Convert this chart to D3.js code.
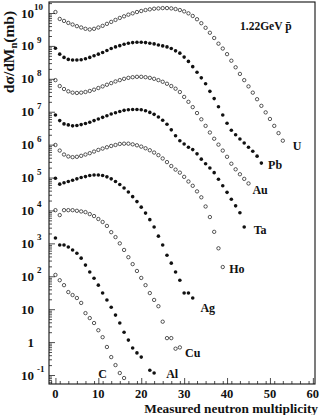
<!DOCTYPE html>
<html>
<head>
<meta charset="utf-8">
<script src="https://cdn.jsdelivr.net/npm/d3@7"></script>
<style>
  body { margin: 0; background: #fff; }
  text { font-family: "Liberation Serif", "DejaVu Serif", serif; font-weight: bold; fill: #111; }
</style>
</head>
<body>
<div id="chart"></div>
<script>
// values, index = measured neutron multiplicity (0,1,2,...)
const targets = ["U", "Pb", "Au", "Ta", "Ho", "Ag", "Cu", "Al", "C"];
const openMarker = [true, false, true, false, true, false, true, false, true];

const U = [1.07e10, 6.6e9, 5.75e9, 5.0e9, 4.47e9, 3.98e9, 3.63e9, 3.31e9, 3.16e9, 3.31e9,
  3.63e9, 4.07e9, 4.68e9, 5.37e9, 6.17e9, 7.08e9, 7.94e9, 8.91e9, 9.77e9, 1.07e10,
  1.15e10, 1.23e10, 1.29e10, 1.35e10, 1.38e10, 1.41e10, 1.41e10, 1.38e10, 1.32e10, 1.23e10,
  1.12e10, 9.77e9, 8.13e9, 6.46e9, 4.9e9, 3.55e9, 2.51e9, 1.74e9, 1.17e9, 8.32e8,
  5.62e8, 3.55e8, 2.24e8, 1.41e8, 9.12e7, 5.89e7, 3.8e7, 2.4e7, 1.51e7, 9.55e6,
  6.03e6, 3.72e6, 2.24e6, 1.32e6];
const Pb = [8.51e8, 5.62e8, 4.47e8, 3.89e8, 3.72e8, 3.72e8, 3.8e8, 4.07e8, 4.47e8, 5.01e8,
  5.62e8, 6.31e8, 7.24e8, 8.32e8, 9.33e8, 1.02e9, 1.12e9, 1.2e9, 1.26e9, 1.29e9,
  1.29e9, 1.26e9, 1.2e9, 1.15e9, 1.07e9, 1.0e9, 9.33e8, 8.32e8, 7.08e8, 6.03e8,
  4.57e8, 3.39e8, 2.34e8, 1.58e8, 1.07e8, 7.08e7, 4.17e7, 2.51e7, 1.41e7, 7.94e6,
  4.47e6, 2.75e6, 2.0e6, 1.48e6, 1.12e6, 8.32e5, 6.31e5, 4.47e5, 2.75e5];
const Au = [9.12e7, 6.03e7, 4.9e7, 4.17e7, 3.8e7, 3.72e7, 3.8e7, 3.98e7, 4.27e7, 4.68e7,
  5.25e7, 5.89e7, 6.61e7, 7.41e7, 8.32e7, 9.12e7, 1.0e8, 1.07e8, 1.12e8, 1.15e8,
  1.15e8, 1.12e8, 1.07e8, 1.0e8, 9.12e7, 8.13e7, 7.08e7, 6.03e7, 5.01e7, 3.98e7,
  2.82e7, 2.0e7, 1.38e7, 9.12e6, 5.89e6, 3.72e6, 2.34e6, 1.51e6, 1.0e6, 6.61e5,
  4.27e5, 2.63e5, 1.78e5, 1.26e5, 9.12e4, 6.61e4];
const Ta = [7.94e6, 5.37e6, 4.27e6, 3.98e6, 3.72e6, 3.8e6, 4.07e6, 4.37e6, 4.79e6, 5.37e6,
  6.03e6, 6.76e6, 7.59e6, 8.51e6, 9.33e6, 1.02e7, 1.1e7, 1.15e7, 1.17e7, 1.17e7,
  1.15e7, 1.07e7, 9.55e6, 8.32e6, 6.92e6, 5.5e6, 4.17e6, 2.82e6, 1.86e6, 1.32e6,
  1.05e6, 8.32e5, 7.08e5, 5.25e5, 3.63e5, 2.63e5, 1.95e5, 1.41e5, 8.91e4, 5.62e4,
  3.55e4, 2.19e4, 1.38e4, 8.51e3, 3.16e3];
const Ho = [9.77e5, 6.61e5, 5.01e5, 4.37e5, 4.17e5, 4.27e5, 4.57e5, 5.01e5, 5.5e5, 6.17e5,
  6.92e5, 7.59e5, 8.32e5, 9.12e5, 9.77e5, 1.05e6, 1.07e6, 1.07e6, 1.02e6, 9.55e5,
  8.71e5, 7.76e5, 6.76e5, 5.75e5, 4.79e5, 3.8e5, 2.95e5, 2.24e5, 1.74e5, 1.41e5,
  1.05e5, 7.59e4, 5.62e4, 3.8e4, 2.51e4, 1.32e4, 6.31e3, 2.24e3, 7.08e2, 1.91e2];
const Ag = [9.55e4, 6.31e4, 6.92e4, 7.59e4, 8.32e4, 9.12e4, 1.0e5, 1.07e5, 1.15e5, 1.2e5,
  1.2e5, 1.15e5, 1.05e5, 9.12e4, 7.59e4, 6.17e4, 4.79e4, 3.63e4, 2.63e4, 1.86e4,
  1.26e4, 8.32e3, 5.25e3, 3.16e3, 1.66e3, 8.91e2, 4.37e2, 2.51e2, 1.35e2, 7.59e1,
  3.09e1, 3.09e1, 2.19e1];
const Cu = [1.02e4, 7.24e3, 1.02e4, 1.02e4, 1.02e4, 9.77e3, 9.33e3, 8.91e3, 7.76e3, 6.76e3,
  5.5e3, 4.47e3, 3.39e3, 2.19e3, 1.55e3, 1.0e3, 6.31e2, 3.8e2, 2.34e2, 1.45e2,
  8.91e1, 5.37e1, 3.09e1, 1.91e1, 1.23e1, 4.17, 1.32, 1.32, 0.63, 0.69];
const Al = [1.45e3, 8.91e2, 8.91e2, 7.76e2, 6.31e2, 5.01e2, 3.55e2, 2.19e2, 1.35e2, 8.71e1,
  5.37e1, 3.09e1, 1.91e1, 1.15e1, 6.61, 3.8, 2.0, 1.15, 0.66, 0.47,
  0.35, null, 0.14, 0.115];
const C = [1.1e2, 7.59e1, 5.37e1, 3.31e1, 2.69e1, 2.19e1, 1.55e1, 7.59, 5.37, 3.8,
  2.29, 1.41, 0.71, 0.35, 0.2, 0.115, 0.081];

const xTicks = [0, 10, 20, 30, 40, 50, 60];
const yDecades = [-1, 0, 1, 2, 3, 4, 5, 6, 7, 8, 9, 10];

const series = [U, Pb, Au, Ta, Ho, Ag, Cu, Al, C];
// where each target name sits (multiplicity, value)
const labelAt = [[56.3, 9.1e5], [51.2, 2.4e5], [47.7, 4.2e4], [47.7, 2.6e3], [42.3, 1.66e2],
                 [35.5, 11], [32, 0.47], [27.2, 0.107], [11, 0.107]];

const width = 321, height = 415;
const frame = {left: 49, right: 315, top: 2, bottom: 384};

const svg = d3.select("#chart").append("svg")
    .attr("width", width).attr("height", height);

const x = d3.scaleLinear().domain([-1.5, 60.5]).range([frame.left, frame.right]);
const y = d3.scaleLog().domain([0.0533, 2.16e10]).range([frame.bottom, frame.top]);

//Minor ticks on log axis
let minor = [];
for (let k = -2; k <= 10; k++)
    for (let m = 2; m <= 9; m++) {
        const v = m * Math.pow(10, k);
        if (v > y.domain()[0] && v < y.domain()[1]) minor.push(v);
    }
const major = yDecades.map(e => Math.pow(10, e));

svg.append("g").attr("transform", `translate(${frame.left},0)`)
    .call(d3.axisLeft(y).tickValues(minor).tickSize(-3).tickFormat(""))
    .call(g => g.select(".domain").remove());
svg.append("g").attr("transform", `translate(${frame.left},0)`)
    .call(d3.axisLeft(y).tickValues(major).tickSize(-6).tickFormat(""))
    .call(g => g.select(".domain").remove());

svg.append("g").attr("transform", `translate(0,${frame.bottom})`)
    .call(d3.axisBottom(x).tickValues(d3.range(-1, 61, 2)).tickSize(-3).tickFormat(""))
    .call(g => g.select(".domain").remove());
svg.append("g").attr("transform", `translate(0,${frame.bottom})`)
    .call(d3.axisBottom(x).tickValues(xTicks).tickSize(-6).tickFormat(""))
    .call(g => g.select(".domain").remove());

svg.selectAll(".tick line").attr("stroke", "#222").attr("stroke-width", 0.8);

//Frame
svg.append("rect")
    .attr("x", frame.left).attr("y", frame.top)
    .attr("width", frame.right - frame.left).attr("height", frame.bottom - frame.top)
    .attr("fill", "none").attr("stroke", "#111").attr("stroke-width", 1.1);

//Y labels
const yl = svg.append("g");
yDecades.forEach(e => {
    const yy = y(Math.pow(10, e));
    const t = yl.append("text").attr("y", yy + 4.5).attr("font-size", 13);
    if (e === 0) { t.attr("x", 34).attr("text-anchor", "end").text("1"); return; }
    t.attr("x", 34).attr("text-anchor", "end").text("10");
    if (e !== 1) {
        yl.append("text")
            .attr("x", e === 10 ? 34 : 37).attr("y", yy - 3)
            .attr("font-size", 9).text(e);
    }
});

//X labels
svg.append("g").selectAll("text").data(xTicks).join("text")
    .attr("x", d => x(d)).attr("y", 398)
    .attr("text-anchor", "middle").attr("font-size", 12.5)
    .text(d => d);

svg.append("text")
    .attr("x", 318).attr("y", 412.5).attr("text-anchor", "end")
    .attr("font-size", 13.3)
    .text("Measured neutron multiplicity");

const yt = svg.append("text")
    .attr("transform", "translate(14,52) rotate(-90)")
    .attr("text-anchor", "middle").attr("font-size", 15.5);
yt.append("tspan").text("dσ/dM");
yt.append("tspan").attr("font-size", 10.5).attr("dy", 3).text("n");
yt.append("tspan").attr("dy", -3).text("(mb)");

const beam = svg.append("text").attr("x", 240).attr("y", 30).attr("font-size", 11.5);
beam.append("tspan").text("1.22GeV ");
beam.append("tspan").text("p\u0304");

//Points
series.forEach((vals, i) => {
    const pts = vals.map((v, m) => ({m, v})).filter(d => d.v != null);
    const g = svg.append("g");
    g.selectAll("circle").data(pts).join("circle")
        .attr("cx", d => x(d.m)).attr("cy", d => y(d.v))
        .attr("r", openMarker[i] ? 1.7 : 1.8)
        .attr("fill", openMarker[i] ? "none" : "#111")
        .attr("stroke", "#111")
        .attr("stroke-width", openMarker[i] ? 0.7 : 0);
});

//Target names
svg.append("g").selectAll("text").data(targets).join("text")
    .attr("x", (d, i) => x(labelAt[i][0])).attr("y", (d, i) => y(labelAt[i][1]) + 4)
    .attr("text-anchor", "middle").attr("font-size", 12)
    .text(d => d);
</script>
</body>
</html>
